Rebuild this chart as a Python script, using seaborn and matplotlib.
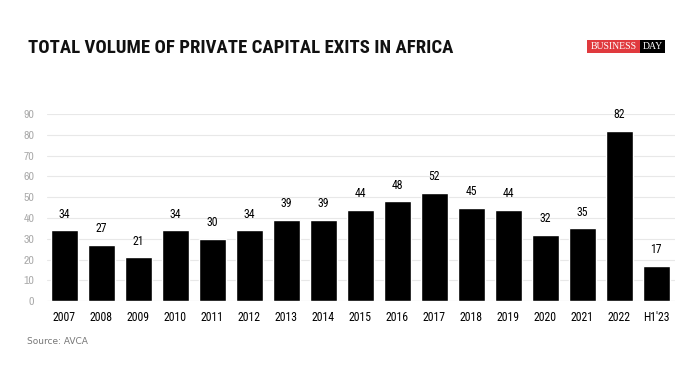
import matplotlib
matplotlib.use("Agg")
import matplotlib.pyplot as plt
import matplotlib.patches as mpatches
import seaborn as sns
import pandas as pd

years = ["2007", "2008", "2009", "2010", "2011", "2012", "2013", "2014", "2015",
         "2016", "2017", "2018", "2019", "2020", "2021", "2022", "H1'23"]
exits = [34, 27, 21, 34, 30, 34, 39, 39, 44, 48, 52, 45, 44, 32, 35, 82, 17]
yticks = [0, 10, 20, 30, 40, 50, 60, 70, 80, 90]

df = pd.DataFrame({"year": years, "exits": exits})

sns.set_style("white")
plt.rcParams['font.family'] = ['Archivo Narrow', 'DejaVu Sans']

fig = plt.figure(figsize=(7, 3.75), dpi=100)
ax = fig.add_axes([0.067, 0.197, 0.897, 0.499])

sns.barplot(data=df, x="year", y="exits", color="black", width=0.72,
            saturation=1, ax=ax)
ax.bar_label(ax.containers[0], padding=7, fontsize=8.5, color="black",
             family="Roboto Condensed")

ax.set_ylim(0, 90)
ax.set_xlim(-0.47, 16.5)
ax.set_yticks(yticks)
ax.grid(axis="y", color="#e8e8e8", linewidth=0.8)
ax.set_axisbelow(True)
sns.despine(ax=ax, left=True, bottom=True, top=True, right=True)
ax.axhline(0, color="#e0e0e0", linewidth=0.8, zorder=0)
ax.set_xlabel("")
ax.set_ylabel("")
ax.tick_params(axis="y", labelsize=8.5, labelcolor="#aaaaaa", length=0, pad=9)
ax.tick_params(axis="x", labelsize=8.5, labelcolor="black", length=0, pad=7)
for lbl in ax.get_xticklabels():
    lbl.set_family("Roboto Condensed")

fig.text(0.04, 0.873, "TOTAL VOLUME OF PRIVATE CAPITAL EXITS IN AFRICA",
         fontsize=13.5, fontweight="bold", family="Roboto Condensed",
         color="#111111", va="center")
fig.text(0.038, 0.09, "Source: AVCA", fontsize=6.5, color="#777777",
         family="DejaVu Sans", va="center")

# logo
fig.patches.append(mpatches.Rectangle((0.839, 0.859), 0.075, 0.034, transform=fig.transFigure,
                                      fc="#e03a3e", ec="none"))
fig.patches.append(mpatches.Rectangle((0.914, 0.859), 0.036, 0.034, transform=fig.transFigure,
                                      fc="black", ec="none"))
fig.text(0.8765, 0.876, "BUSINESS", fontsize=7, color="white", family="Liberation Serif",
         va="center", ha="center")
fig.text(0.932, 0.876, "DAY", fontsize=7, color="white", family="Liberation Serif",
         va="center", ha="center")

fig.savefig("out.png", dpi=100)
